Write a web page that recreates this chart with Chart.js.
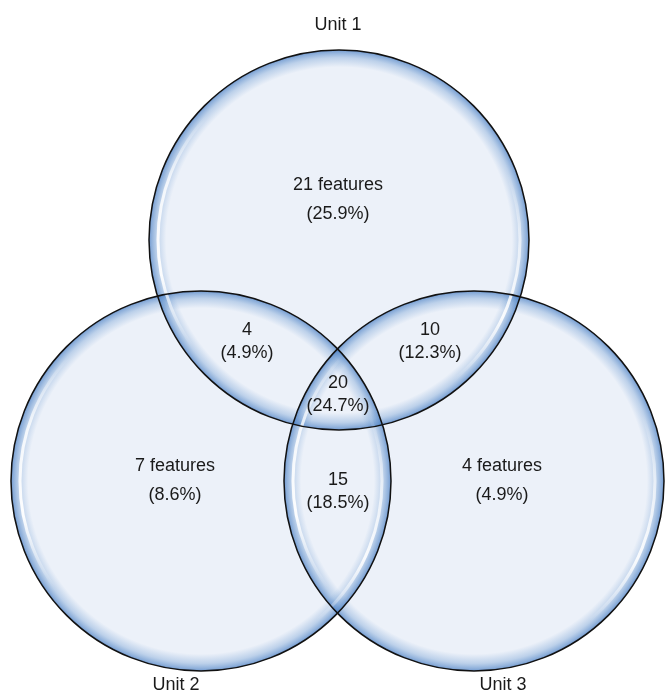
<!DOCTYPE html>
<html>
<head>
    <title>Unit feature overlap</title>
    <script src="https://cdn.jsdelivr.net/npm/chart.js"></script>
    <style>
        html, body { margin: 0; padding: 0; background: white; }
        #chart { display: block; }
    </style>
</head>
<body>
    <canvas id="chart" width="665" height="692"></canvas>

    <script>
        // sets and their circles (chart units = pixels of the picture)
        const units = ['Unit 1', 'Unit 2', 'Unit 3'];
        const unitX = [339, 201, 474];
        const unitY = [240, 481, 481];
        const unitR = [190, 190, 190];
        const unitLabelX = [338, 176, 503];
        const unitLabelY = [25, 685, 685];

        // regions: U1 only, U2 only, U3 only, U1&U2, U1&U3, U2&U3, all
        const regionCounts = [21, 7, 4, 4, 10, 15, 20];
        const regionPct = ['25.9', '8.6', '4.9', '4.9', '12.3', '18.5', '24.7'];
        const regionX = [338, 175, 502, 247, 430, 338, 338];
        const regionY = [200, 481, 481, 342, 342, 492, 395];

        const font = '18px "Liberation Sans", Arial, sans-serif';

        const vennPaint = {
            id: 'vennPaint',
            beforeDatasetsDraw(chart) {
                const ctx = chart.ctx;
                const pts = chart.getDatasetMeta(0).data;
                ctx.save();
                // base fill
                ctx.fillStyle = '#ecf1f9';
                pts.forEach(p => {
                    ctx.beginPath();
                    ctx.arc(p.x, p.y, p.options.radius, 0, Math.PI * 2);
                    ctx.fill();
                });
                // inner glow of every circle
                pts.forEach(p => {
                    const r = p.options.radius;
                    const g = ctx.createRadialGradient(p.x, p.y, 0, p.x, p.y, r);
                    g.addColorStop(0, 'rgba(80,135,200,0)');
                    g.addColorStop(0.91, 'rgba(80,135,200,0)');
                    g.addColorStop(0.96, 'rgba(80,135,200,0.3)');
                    g.addColorStop(0.99, 'rgba(70,125,195,0.6)');
                    g.addColorStop(1, 'rgba(60,110,180,0.75)');
                    ctx.fillStyle = g;
                    ctx.beginPath();
                    ctx.arc(p.x, p.y, r, 0, Math.PI * 2);
                    ctx.fill();
                });
                // white rim highlight
                pts.forEach(p => {
                    const r = p.options.radius;
                    const c = ctx.createConicGradient(0, p.x, p.y);
                    c.addColorStop(0, 'rgba(255,255,255,0.6)');
                    c.addColorStop(0.07, 'rgba(255,255,255,0.9)');
                    c.addColorStop(0.14, 'rgba(255,255,255,0)');
                    c.addColorStop(0.40, 'rgba(255,255,255,0)');
                    c.addColorStop(0.47, 'rgba(255,255,255,0.95)');
                    c.addColorStop(0.55, 'rgba(255,255,255,0.8)');
                    c.addColorStop(0.62, 'rgba(255,255,255,0)');
                    c.addColorStop(0.94, 'rgba(255,255,255,0)');
                    c.addColorStop(1, 'rgba(255,255,255,0.6)');
                    ctx.strokeStyle = c;
                    ctx.lineWidth = 3;
                    ctx.beginPath();
                    ctx.arc(p.x, p.y, r - 9, 0, Math.PI * 2);
                    ctx.stroke();
                });
                ctx.restore();
            },
            afterDatasetsDraw(chart) {
                const ctx = chart.ctx;
                const xs = chart.scales.x, ys = chart.scales.y;
                ctx.save();
                ctx.font = font;
                ctx.fillStyle = '#1a1a1a';
                ctx.textAlign = 'center';
                ctx.textBaseline = 'middle';
                units.forEach((u, i) => {
                    ctx.fillText(u, xs.getPixelForValue(unitLabelX[i]), ys.getPixelForValue(unitLabelY[i]));
                });
                regionCounts.forEach((n, i) => {
                    const x = xs.getPixelForValue(regionX[i]);
                    const y = ys.getPixelForValue(regionY[i]);
                    const single = i < 3;
                    const gap = single ? 14.5 : 11.5;
                    ctx.fillText(single ? n + ' features' : String(n), x, y - gap);
                    ctx.fillText('(' + regionPct[i] + '%)', x, y + gap);
                });
                ctx.restore();
            }
        };

        new Chart(document.getElementById('chart'), {
            type: 'bubble',
            data: {
                datasets: [{
                    label: 'Units',
                    data: units.map((u, i) => ({ x: unitX[i], y: unitY[i], r: unitR[i] })),
                    backgroundColor: 'rgba(0,0,0,0)',
                    borderColor: '#111',
                    borderWidth: 1.5,
                    hoverRadius: 0,
                    clip: false
                }]
            },
            options: {
                responsive: false,
                animation: false,
                events: [],
                layout: { padding: 0, autoPadding: false },
                plugins: { legend: { display: false }, tooltip: { enabled: false } },
                scales: {
                    x: { type: 'linear', min: 0, max: 665, display: false },
                    y: { type: 'linear', min: 0, max: 692, reverse: true, display: false }
                }
            },
            plugins: [vennPaint]
        });
    </script>
</body>
</html>
